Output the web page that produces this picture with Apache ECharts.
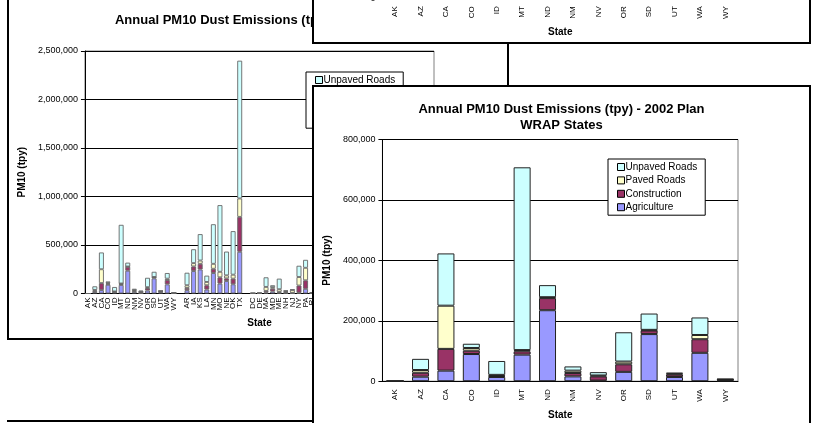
<!DOCTYPE html>
<html>
<head>
<meta charset="utf-8">
<script src="https://cdn.jsdelivr.net/npm/echarts@6/dist/echarts.min.js"></script>
<style>
  html, body { margin: 0; padding: 0; background: #fff; width: 814px; height: 423px; overflow: hidden; position: relative; }
  .panel { position: absolute; box-sizing: border-box; border: 2px solid #000; background: #fff; }
  #strip { position: absolute; left: 7px; top: 420px; width: 306px; height: 2px; background: #000; z-index: 1; }
  #allStates { left: 7px; top: -2px; width: 502px; height: 342px; z-index: 2; }
  #wrapBack { left: 312px; top: -298px; width: 499px; height: 342px; z-index: 3; }
  #wrapFront { left: 312px; top: 85px; width: 499px; height: 342px; z-index: 4; }
</style>
</head>
<body>
<div id="strip"></div>
<div id="allStates" class="panel"></div>
<div id="wrapBack" class="panel"></div>
<div id="wrapFront" class="panel"></div>
<script>
// ---- Annual PM10 dust emissions by source category (tons per year) ----
const sourceNames = ['Agriculture', 'Construction', 'Paved Roads', 'Unpaved Roads'];
const sourceColors = ['#9999FF', '#993366', '#FFFFCC', '#CCFFFF'];

// WRAP states
const wrapStates       = ['AK', 'AZ', 'CA', 'CO', 'ID', 'MT', 'ND', 'NM', 'NV', 'OR', 'SD', 'UT', 'WA', 'WY'];
const wrapAgriculture  = [0, 15000, 35000, 90000, 14000, 88000, 235000, 16000, 2000, 31000, 156000, 14000, 94000, 2000];
const wrapConstruction = [0, 13000, 72000, 11000, 3000, 11000, 40000, 11000, 14000, 25000, 12000, 8000, 45000, 3000];
const wrapPaved        = [0, 9000, 143000, 9000, 4000, 4000, 3000, 8000, 3000, 9000, 2000, 3000, 14000, 1000];
const wrapUnpaved      = [0, 37000, 173000, 14000, 46000, 605000, 40000, 14000, 11000, 97000, 54000, 3000, 58000, 2000];

// CENRAP states
const cenrapStates       = ['AR', 'IA', 'KS', 'LA', 'MN', 'MO', 'NE', 'OK', 'TX'];
const cenrapAgriculture  = [34000, 231000, 248000, 41000, 211000, 102000, 129000, 95000, 430000];
const cenrapConstruction = [24000, 48000, 58000, 44000, 44000, 65000, 27000, 58000, 360000];
const cenrapPaved        = [27000, 34000, 34000, 34000, 51000, 57000, 31000, 41000, 190000];
const cenrapUnpaved      = [129000, 143000, 272000, 65000, 408000, 687000, 245000, 449000, 1420000];

// MANE-VU states (VT has no figure entered)
const manevuStates       = ['DC', 'DE', 'MA', 'MD', 'ME', 'NH', 'NJ', 'NY', 'PA', 'RI', 'VT'];
const manevuAgriculture  = [0, 1000, 10000, 20000, 7000, 5000, 3000, 7000, 48000, 2000, null];
const manevuConstruction = [2000, 2000, 17000, 30000, 10000, 12000, 4000, 75000, 88000, 3000, null];
const manevuPaved        = [1000, 1000, 41000, 15000, 27000, 8000, 30000, 88000, 129000, 3000, null];
const manevuUnpaved      = [1000, 1000, 99000, 20000, 109000, 6000, 4000, 116000, 82000, 2000, null];

// Remaining regions are listed on the axis without figures
const mrpoStates   = ['IL', 'IN', 'MI', 'OH', 'WI'];
const vistasStates = ['AL', 'FL', 'GA', 'KY', 'MS', 'NC', 'SC', 'TN', 'VA', 'WV'];

const FONT = 'Arial, "Liberation Sans", sans-serif';
const fmt = v => Number(v).toLocaleString('en-US');
const blanks = n => new Array(n).fill(null);

function stackSeries(columns, barStyle) {
  return sourceNames.map((name, i) => ({
    name,
    type: 'bar',
    stack: 'dust',
    data: columns[i],
    barCategoryGap: barStyle.gap,
    itemStyle: { color: sourceColors[i], borderColor: barStyle.color, borderWidth: barStyle.width },
    emphasis: { disabled: true }
  }));
}

function legendBlock(left, top) {
  return {
    orient: 'vertical',
    left, top,
    data: ['Unpaved Roads', 'Paved Roads', 'Construction', 'Agriculture'],
    backgroundColor: '#fff',
    borderColor: '#000',
    borderWidth: 1,
    borderRadius: 0,
    padding: [2, 8, 2, 9],
    itemWidth: 7,
    itemHeight: 7,
    itemGap: 1.4,
    icon: 'rect',
    itemStyle: { borderColor: '#000', borderWidth: 1 },
    textStyle: { fontFamily: FONT, fontSize: 10, color: '#000', lineHeight: 12, padding: [0, 0, 0, -4] },
    selectedMode: false
  };
}

function axes(categories, yMax, yStep, opts) {
  return {
    xAxis: {
      type: 'category',
      data: categories,
      axisLine: { lineStyle: { color: '#000', width: 1 } },
      axisTick: { lineStyle: { color: '#000' }, length: 4 },
      axisLabel: { rotate: 90, interval: 0, fontSize: 8, color: '#000', fontFamily: FONT, margin: opts.labelMargin },
      name: 'State',
      nameLocation: 'middle',
      nameGap: opts.xNameGap,
      nameTextStyle: { fontFamily: FONT, fontWeight: 'bold', fontSize: 10, color: '#000' }
    },
    yAxis: {
      type: 'value',
      min: 0, max: yMax, interval: yStep,
      axisLine: { show: true, lineStyle: { color: '#000', width: 1 } },
      axisTick: { show: true, length: 4, lineStyle: { color: '#000' } },
      axisLabel: { fontSize: 9, color: '#000', fontFamily: FONT, margin: 7, formatter: fmt },
      splitLine: { lineStyle: { color: '#000', width: 1 } },
      name: 'PM10 (tpy)',
      nameLocation: 'middle',
      nameRotate: 90,
      nameGap: opts.yNameGap,
      nameTextStyle: { fontFamily: FONT, fontWeight: 'bold', fontSize: 10, color: '#000' }
    }
  };
}

// WRAP states chart (two copies of the same sheet)
function wrapOption() {
  const a = axes(wrapStates, 800000, 200000, { labelMargin: 8, xNameGap: 23, yNameGap: 44 });
  return {
    animation: false,
    backgroundColor: '#fff',
    title: {
      text: 'Annual PM10 Dust Emissions (tpy) - 2002 Plan\nWRAP States',
      left: 'center', top: 14, padding: 0,
      textStyle: { fontFamily: FONT, fontSize: 13, fontWeight: 'bold', color: '#000', lineHeight: 16 }
    },
    legend: legendBlock(294, 72),
    grid: { left: 62, top: 52.5, width: 362, height: 242.2, show: true, borderColor: '#808080', borderWidth: 1, backgroundColor: '#fff' },
    xAxis: a.xAxis,
    yAxis: a.yAxis,
    series: stackSeries([wrapAgriculture, wrapConstruction, wrapPaved, wrapUnpaved], { color: '#222', width: 1, gap: '33%' })
  };
}

// All states chart, regions separated by an empty slot
function allStatesOption() {
  const cats = [].concat(wrapStates, [''], cenrapStates, [''], manevuStates, [''], mrpoStates, [''], vistasStates);
  const join = (w, c, m) => [].concat(w, [null], c, [null], m, [null], blanks(mrpoStates.length), [null], blanks(vistasStates.length));
  const cols = [
    join(wrapAgriculture, cenrapAgriculture, manevuAgriculture),
    join(wrapConstruction, cenrapConstruction, manevuConstruction),
    join(wrapPaved, cenrapPaved, manevuPaved),
    join(wrapUnpaved, cenrapUnpaved, manevuUnpaved)
  ];
  const a = axes(cats, 2500000, 500000, { labelMargin: 4, xNameGap: 25, yNameGap: 50 });
  return {
    animation: false,
    backgroundColor: '#fff',
    title: {
      text: 'Annual PM10 Dust Emissions (tpy) - 2002 Plan',
      left: 'center', top: 12, padding: 0,
      textStyle: { fontFamily: FONT, fontSize: 13, fontWeight: 'bold', color: '#000', lineHeight: 16 }
    },
    legend: legendBlock(297, 72),
    grid: { left: 69, top: 51, width: 356, height: 242.5, show: true, borderColor: '#808080', borderWidth: 1, backgroundColor: '#fff' },
    xAxis: a.xAxis,
    yAxis: a.yAxis,
    series: stackSeries(cols, { color: '#666', width: 0.9, gap: '25%' })
  };
}

echarts.init(document.getElementById('allStates'), null, { renderer: 'canvas' }).setOption(allStatesOption());
echarts.init(document.getElementById('wrapBack'), null, { renderer: 'canvas' }).setOption(wrapOption());
echarts.init(document.getElementById('wrapFront'), null, { renderer: 'canvas' }).setOption(wrapOption());
</script>
</body>
</html>
